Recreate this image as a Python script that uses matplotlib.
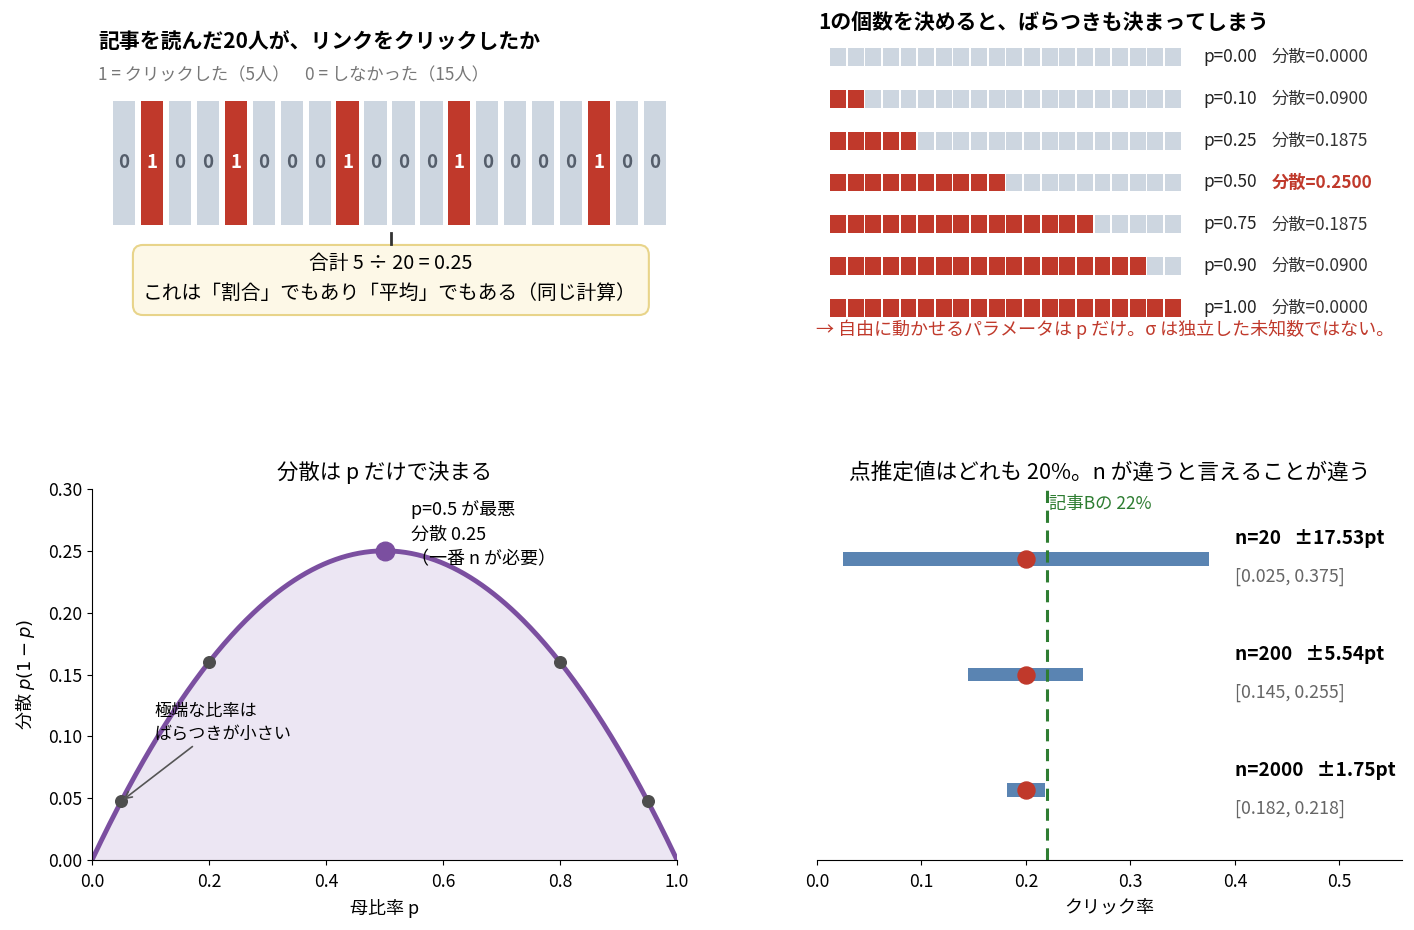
import numpy as np
import matplotlib
matplotlib.use("Agg")
import matplotlib.pyplot as plt
from matplotlib.patches import Rectangle, FancyBboxPatch

plt.rcParams['font.family'] = ['Noto Sans CJK JP', 'DejaVu Sans']

# ---------------- data ----------------
clicks = [0, 1, 0, 0, 1, 0, 0, 0, 1, 0, 0, 0, 1, 0, 0, 0, 0, 1, 0, 0]
p_rows = [0.00, 0.10, 0.25, 0.50, 0.75, 0.90, 1.00]
n_tiles = 20
curve_pts = [0.05, 0.2, 0.8, 0.95]
peak_p = 0.5
ci_labels = ["n=20", "n=200", "n=2000"]
ci_n = [20, 200, 2000]
ci_center = [0.20, 0.20, 0.20]
ci_half = [0.1753, 0.0554, 0.0175]
ci_lo = [0.025, 0.145, 0.182]
ci_hi = [0.375, 0.255, 0.218]
ref_b = 0.22

RED = "#c0392b"
GRAY = "#cdd6e0"
PURPLE = "#7b4fa0"
BLUE = "#5a84b2"
GREEN = "#2e7d32"

W, H = 1414, 930
fig = plt.figure(figsize=(W / 100, H / 100), dpi=100)


def px_axes(x0, y0, x1, y1):
    return fig.add_axes([x0 / W, 1 - y1 / H, (x1 - x0) / W, (y1 - y0) / H])


# ---------------- top-left: 20 tiles ----------------
ax1 = px_axes(113, 101, 666, 225)
for i, v in enumerate(clicks):
    ax1.add_patch(Rectangle((i, 0), 0.8, 1, facecolor=RED if v else GRAY, edgecolor='none'))
    ax1.text(i + 0.4, 0.5, str(v), ha='center', va='center', fontsize=13.5, fontweight='bold',
             color='white' if v else '#555e6b')
ax1.set_xlim(0, 19.8)
ax1.set_ylim(0, 1)
ax1.axis('off')
ax1.text(-0.027, 1.475, "記事を読んだ20人が、リンクをクリックしたか", transform=ax1.transAxes,
         fontsize=15, fontweight='bold', ha='left', va='center')
ax1.text(-0.027, 1.21, f"1 = クリックした（{sum(clicks)}人）    0 = しなかった（{len(clicks) - sum(clicks)}人）",
         transform=ax1.transAxes, fontsize=12.4, color='#777777', ha='left', va='center')
ax1.plot([0.503, 0.503], [-0.065, -0.15], transform=ax1.transAxes, color='#333333', lw=2, clip_on=False)
ax1.add_patch(FancyBboxPatch((0.036, -0.726), 0.933, 0.565, transform=ax1.transAxes,
                             boxstyle='round,pad=0,rounding_size=0.018', mutation_aspect=4.46,
                             facecolor='#fdf8e7', edgecolor='#e8d48a', lw=1.5, clip_on=False))
ax1.text(0.503, -0.31, f"合計 {sum(clicks)} ÷ {len(clicks)} = {sum(clicks) / len(clicks):.2f}",
         transform=ax1.transAxes, ha='center', va='center', fontsize=14.2)
ax1.text(0.5, -0.553, "これは「割合」でもあり「平均」でもある（同じ計算）",
         transform=ax1.transAxes, ha='center', va='center', fontsize=14.2)

# ---------------- top-right: proportion rows ----------------
ax2 = px_axes(830, 48, 1181, 317)
for r, p in enumerate(p_rows):
    k = int(round(p * n_tiles))
    for i in range(n_tiles):
        ax2.add_patch(Rectangle((i + 0.05, r - 0.215), 0.9, 0.43,
                                facecolor=RED if i < k else GRAY, edgecolor='none'))
    var = p * (1 - p)
    ax2.text(21.2, r, f"p={p:.2f}", ha='left', va='center', fontsize=12.4, color='#222222')
    best = abs(p - 0.5) < 1e-9
    ax2.text(25.1, r, f"分散={var:.4f}", ha='left', va='center', fontsize=12.4,
             color=RED if best else '#333333', fontweight='bold' if best else 'normal')
ax2.set_xlim(0.05, 19.95)
ax2.set_ylim(6.215, -0.215)
ax2.axis('off')
ax2.text(-0.63, -0.82, "1の個数を決めると、ばらつきも決まってしまう", ha='left', va='center',
         fontsize=15, fontweight='bold')
ax2.text(-0.72, 6.5, "→ 自由に動かせるパラメータは p だけ。σ は独立した未知数ではない。",
         ha='left', va='center', fontsize=13, color=RED)

# ---------------- bottom-left: variance curve ----------------
ax3 = px_axes(92, 489, 677, 860)
pp = np.linspace(0, 1, 400)
ax3.fill_between(pp, pp * (1 - pp), color='#ece6f3')
ax3.plot(pp, pp * (1 - pp), color=PURPLE, lw=3.5)
cp = np.array(curve_pts)
ax3.scatter(cp, cp * (1 - cp), s=70, color='#4d4d4d', zorder=3)
ax3.scatter([peak_p], [peak_p * (1 - peak_p)], s=180, color=PURPLE, zorder=4)
ax3.text(0.545, 0.291, "p=0.5 が最悪\n分散 0.25\n（一番 n が必要）", ha='left', va='top', fontsize=13,
         linespacing=1.47)
ax3.annotate("極端な比率は\nばらつきが小さい", xy=(0.05, 0.05 * 0.95), xytext=(0.107, 0.094),
             fontsize=12.3, ha='left', va='bottom', linespacing=1.4,
             arrowprops=dict(arrowstyle='->', color='#555555', lw=1.2, shrinkA=0, shrinkB=2))
ax3.set_xlim(0, 1)
ax3.set_ylim(0, 0.30)
ax3.set_xticks([0, 0.2, 0.4, 0.6, 0.8, 1.0])
ax3.set_yticks([0, 0.05, 0.10, 0.15, 0.20, 0.25, 0.30])
ax3.tick_params(labelsize=12.7)
ax3.tick_params(axis='x', pad=5.5)
ax3.set_title("分散は p だけで決まる", fontsize=15.4, pad=7.5)
ax3.set_xlabel("母比率 p", fontsize=13, labelpad=6)
ax3.set_ylabel("分散 $p(1-p)$", fontsize=13, labelpad=8)
ax3.spines['top'].set_visible(False)
ax3.spines['right'].set_visible(False)

# ---------------- bottom-right: confidence intervals ----------------
ax4 = px_axes(817, 489, 1402, 860)
ys = np.arange(len(ci_n))[::-1]
for y, lab, c, lo, hi, h in zip(ys, ci_labels, ci_center, ci_lo, ci_hi, ci_half):
    ax4.barh(y, hi - lo, left=lo, height=0.12, color=BLUE)
    ax4.scatter([c], [y], s=150, color=RED, zorder=4)
    ax4.text(0.40, y + 0.175, f"{lab}   ±{h * 100:.2f}pt", fontsize=13.7, fontweight='bold',
             ha='left', va='center')
    ax4.text(0.40, y - 0.16, f"[{lo:.3f}, {hi:.3f}]", fontsize=12.8, color='#666666',
             ha='left', va='center')
ax4.axvline(ref_b, color=GREEN, ls='--', lw=2.2, dashes=(4, 2.5))
ax4.text(ref_b + 0.002, 2.47, f"記事Bの {ref_b * 100:.0f}%", color=GREEN, fontsize=12.5,
         ha='left', va='center')
ax4.set_xlim(0, 0.56)
ax4.set_ylim(-0.6, 2.6)
ax4.set_xticks([0, 0.1, 0.2, 0.3, 0.4, 0.5])
ax4.set_yticks([])
ax4.tick_params(labelsize=12.7)
ax4.tick_params(axis='x', pad=5.5)
ax4.set_title("点推定値はどれも 20%。n が違うと言えることが違う", fontsize=15.6, pad=7.5)
ax4.set_xlabel("クリック率", fontsize=13, labelpad=6)
for s in ['top', 'right', 'left']:
    ax4.spines[s].set_visible(False)

fig.savefig("out.png", dpi=100)
